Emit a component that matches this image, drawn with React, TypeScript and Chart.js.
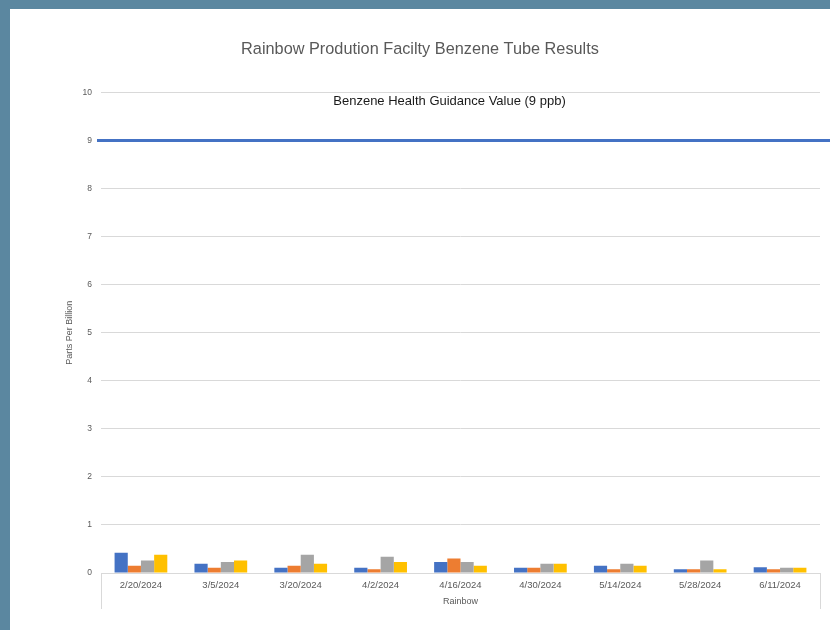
import React, { useEffect, useRef } from "react";
import { Chart, registerables } from "chart.js";

Chart.register(...registerables);

const categories = ["2/20/2024", "3/5/2024", "3/20/2024", "4/2/2024", "4/16/2024", "4/30/2024", "5/14/2024", "5/28/2024", "6/11/2024"];
const series1 = [0.42, 0.19, 0.11, 0.11, 0.23, 0.11, 0.15, 0.08, 0.12];
const series2 = [0.15, 0.11, 0.15, 0.08, 0.30, 0.11, 0.08, 0.08, 0.08];
const series3 = [0.26, 0.23, 0.38, 0.34, 0.23, 0.19, 0.19, 0.26, 0.11];
const series4 = [0.38, 0.26, 0.19, 0.23, 0.15, 0.19, 0.15, 0.08, 0.11];
const seriesNames = ["Series 1", "Series 2", "Series 3", "Series 4"];
const seriesColors = ["#4472C4", "#ED7D31", "#A5A5A5", "#FFC000"];
const guidanceValue = 9;
const guidanceLabel = "Benzene Health Guidance Value (9 ppb)";
const yTicks = [0, 1, 2, 3, 4, 5, 6, 7, 8, 9, 10];

const FONT = "'Liberation Sans', Arial, sans-serif";

const guidancePlugin = {
  id: "guidance",
  afterDatasetsDraw(chart: any) {
    const { ctx, chartArea, scales } = chart;
    const y = scales.y.getPixelForValue(guidanceValue);
    ctx.save();
    ctx.strokeStyle = "#4472C4";
    ctx.lineWidth = 3;
    ctx.beginPath();
    ctx.moveTo(chartArea.left - 4, y);
    ctx.lineTo(chart.width, y);
    ctx.stroke();
    ctx.fillStyle = "#1a1a1a";
    ctx.font = "13px " + FONT;
    ctx.textAlign = "center";
    ctx.textBaseline = "middle";
    ctx.fillText(guidanceLabel, 439.5, scales.y.getPixelForValue(10) + 9);
    // category bracket lines
    ctx.strokeStyle = "#d9d9d9";
    ctx.lineWidth = 1;
    ctx.beginPath();
    ctx.moveTo(chartArea.left + 0.5, chartArea.bottom);
    ctx.lineTo(chartArea.left + 0.5, chartArea.bottom + 36);
    ctx.moveTo(chartArea.right + 0.5, chartArea.bottom);
    ctx.lineTo(chartArea.right + 0.5, chartArea.bottom + 36);
    ctx.stroke();
    ctx.restore();
  },
};

export default function App() {
  const ref = useRef<HTMLCanvasElement>(null);
  useEffect(() => {
    const datasets = [series1, series2, series3, series4].map((d, i) => ({
      label: seriesNames[i],
      data: d,
      backgroundColor: seriesColors[i],
      borderWidth: 0,
      categoryPercentage: 0.66,
      barPercentage: 1,
    }));
    const chart = new Chart(ref.current!, {
      type: "bar",
      data: { labels: categories, datasets },
      plugins: [guidancePlugin],
      options: {
        responsive: false,
        animation: false,
        layout: { padding: { left: 0, right: 0, top: 0, bottom: 0 } },
        plugins: {
          legend: { display: false },
          tooltip: { enabled: false },
          title: {
            display: true,
            text: "Rainbow Prodution Facilty Benzene Tube Results",
            color: "#595959",
            font: { family: FONT, size: 16.3, weight: "normal" },
            padding: { top: 31, bottom: 33 },
          },
        },
        scales: {
          x: {
            grid: { display: false, drawTicks: false },
            border: { color: "#d9d9d9" },
            ticks: { color: "#595959", font: { family: FONT, size: 9.5 }, padding: 7, maxRotation: 0, autoSkip: false },
            title: { display: true, text: "Rainbow", color: "#595959", font: { family: FONT, size: 9 }, padding: { top: 23.5, bottom: 23.5 } },
            afterFit: (s: any) => { s.height = 57; },
          },
          y: {
            min: 0,
            max: 10,
            afterBuildTicks: (s: any) => { s.ticks = yTicks.map((v) => ({ value: v })); },
            grid: { color: "#d9d9d9", drawTicks: false },
            border: { display: false },
            ticks: { color: "#595959", font: { family: FONT, size: 8.5 }, padding: 9 },
            title: { display: true, text: "Parts Per Billion", color: "#595959", font: { family: FONT, size: 9 }, padding: { top: 54.5, bottom: 54.5 } },
            afterFit: (s: any) => { s.width = 91; },
          },
          spacer: {
            type: "linear",
            position: "right",
            display: true,
            grid: { display: false, drawTicks: false },
            border: { display: false },
            ticks: { display: false },
            afterFit: (s: any) => { s.width = 10; },
          },
        },
      },
    });
    return () => chart.destroy();
  }, []);
  return (
    <div style={{ position: "fixed", left: 0, top: 0, width: 830, height: 630, background: "#5b87a0" }}>
      <div style={{ position: "absolute", left: 10, top: 9, width: 820, height: 621, background: "#ffffff" }}>
        <canvas ref={ref} width={820} height={621} style={{ display: "block" }} />
      </div>
    </div>
  );
}
